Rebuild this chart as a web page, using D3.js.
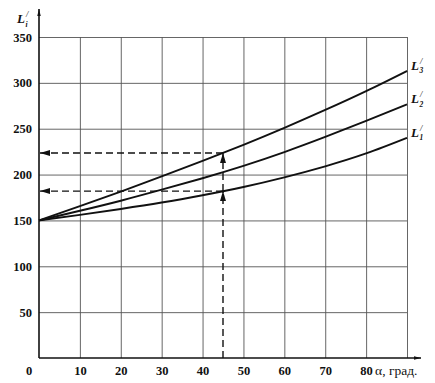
<!DOCTYPE html>
<html><head><meta charset="utf-8">
<script src="https://cdn.jsdelivr.net/npm/d3@7"></script>
<style>body{margin:0;background:#fff}svg{display:block}</style>
</head><body>
<script>
const alpha = [0, 10, 20, 30, 40, 50, 60, 70, 80, 90];
const L1 = [150, 156, 162.5, 169.5, 177.5, 186.5, 197, 209, 223, 240];
const L2 = [150, 160.5, 171.5, 183.5, 196, 209.5, 224.5, 241, 258.5, 276.5];
const L3 = [150, 165.5, 181.5, 198, 215, 232.5, 251, 270.5, 291, 313];
const seriesNames = ["1", "2", "3"];
const xTicks = [10, 20, 30, 40, 50, 60, 70, 80];
const xGrid = [10, 20, 30, 40, 50, 60, 70, 80, 90];
const yTicks = [50, 100, 150, 200, 250, 300, 350];
const readAlpha = 45;
const readValues = [182, 223.5];

const W = 435, H = 383;
const svg = d3.select("body").append("svg").attr("width", W).attr("height", H);
const x = d3.scaleLinear().domain([0, 90]).range([39, 407]);
const y = d3.scaleLinear().domain([0, 350]).range([358, 37]);

const defs = svg.append("defs");
defs.append("marker").attr("id", "arr").attr("viewBox", "0 0 10 10")
  .attr("refX", 10).attr("refY", 5).attr("markerWidth", 10).attr("markerHeight", 10)
  .attr("markerUnits", "userSpaceOnUse").attr("orient", "auto")
  .append("path").attr("d", "M0,2 L10,5 L0,8 Z").attr("fill", "#111");
defs.append("marker").attr("id", "axarr").attr("viewBox", "0 0 10 10")
  .attr("refX", 10).attr("refY", 5).attr("markerWidth", 7).attr("markerHeight", 7)
  .attr("markerUnits", "userSpaceOnUse").attr("orient", "auto")
  .append("path").attr("d", "M0,2.5 L10,5 L0,7.5 Z").attr("fill", "#111");

const font = "'Liberation Serif', 'DejaVu Serif', serif";

// grid
svg.append("g").attr("transform", `translate(0,${y(0)})`)
  .call(d3.axisBottom(x).tickValues(xGrid).tickSize(-(y(0) - y(350))).tickFormat(""))
  .call(g => g.select(".domain").remove())
  .call(g => g.selectAll("line").attr("stroke", "#555").attr("stroke-width", 0.9));
svg.append("g").attr("transform", `translate(${x(0)},0)`)
  .call(d3.axisLeft(y).tickValues(yTicks).tickSize(-(x(90) - x(0))).tickFormat(""))
  .call(g => g.select(".domain").remove())
  .call(g => g.selectAll("line").attr("stroke", "#555").attr("stroke-width", 0.9));

// tick labels
svg.append("g").attr("transform", `translate(0,${y(0)})`)
  .call(d3.axisBottom(x).tickValues(xTicks).tickSize(0).tickPadding(8).tickFormat(d3.format("d")))
  .call(g => g.select(".domain").remove())
  .call(g => g.selectAll("text").attr("font-family", font).attr("font-weight", "bold")
    .attr("font-size", 12.5).attr("fill", "#111"));
svg.append("g").attr("transform", `translate(${x(0)},0)`)
  .call(d3.axisLeft(y).tickValues(yTicks).tickSize(0).tickPadding(7).tickFormat(d3.format("d")))
  .call(g => g.select(".domain").remove())
  .call(g => g.selectAll("text").attr("font-family", font).attr("font-weight", "bold")
    .attr("font-size", 12.5).attr("fill", "#111"));
svg.append("text").attr("x", 29).attr("y", y(0) + 17).attr("text-anchor", "middle")
  .attr("font-family", font).attr("font-weight", "bold").attr("font-size", 12.5).attr("fill", "#111").text("0");
svg.append("text").attr("x", x(80) + 9).attr("y", y(0) + 17)
  .attr("font-family", font).attr("font-size", 13.5).attr("fill", "#111").text("α, град.");

// axes
svg.append("line").attr("x1", x(0)).attr("y1", y(0)).attr("x2", 421).attr("y2", y(0))
  .attr("stroke", "#111").attr("stroke-width", 1.6).attr("marker-end", "url(#axarr)");
svg.append("line").attr("x1", x(0)).attr("y1", y(0)).attr("x2", x(0)).attr("y2", 9)
  .attr("stroke", "#111").attr("stroke-width", 1.6).attr("marker-end", "url(#axarr)");

// curves
const line = d3.line().x((d, i) => x(alpha[i])).y(d => y(d)).curve(d3.curveNatural);
[L1, L2, L3].forEach(s => {
  svg.append("path").attr("d", line(s)).attr("fill", "none").attr("stroke", "#111").attr("stroke-width", 1.9);
});

// dashed reading lines
const dash = "7,4";
readValues.forEach(v => {
  svg.append("line").attr("x1", x(readAlpha)).attr("y1", y(v)).attr("x2", x(0) + 1).attr("y2", y(v))
    .attr("stroke", "#111").attr("stroke-width", 1.4).attr("stroke-dasharray", dash).attr("marker-end", "url(#arr)");
});
svg.append("line").attr("x1", x(readAlpha)).attr("y1", y(0)).attr("x2", x(readAlpha)).attr("y2", y(readValues[0]))
  .attr("stroke", "#111").attr("stroke-width", 1.4).attr("stroke-dasharray", dash).attr("marker-end", "url(#arr)");
svg.append("line").attr("x1", x(readAlpha)).attr("y1", y(readValues[0])).attr("x2", x(readAlpha)).attr("y2", y(readValues[1]))
  .attr("stroke", "#111").attr("stroke-width", 1.4).attr("stroke-dasharray", dash).attr("marker-end", "url(#arr)");

// series labels: L with prime above and index below, stacked
function lLabel(g, sub, xx, yy) {
  const t = g.append("text").attr("y", yy).attr("font-family", font)
    .attr("font-style", "italic").attr("font-weight", "bold").attr("fill", "#111");
  t.append("tspan").attr("x", xx).attr("font-size", 13).text("L");
  t.append("tspan").attr("x", xx + 9).attr("dy", -6).attr("font-size", 8.5).attr("font-weight", "normal").text("/");
  t.append("tspan").attr("x", xx + 8.5).attr("dy", 9.5).attr("font-size", 7.5).text(sub);
}
const ends = [L1, L2, L3];
seriesNames.forEach((n, i) => {
  const s = ends[i];
  lLabel(svg, n, 411, y(s[s.length - 1]) - 1);
});
lLabel(svg, "i", 17, 23);
</script>
</body></html>
